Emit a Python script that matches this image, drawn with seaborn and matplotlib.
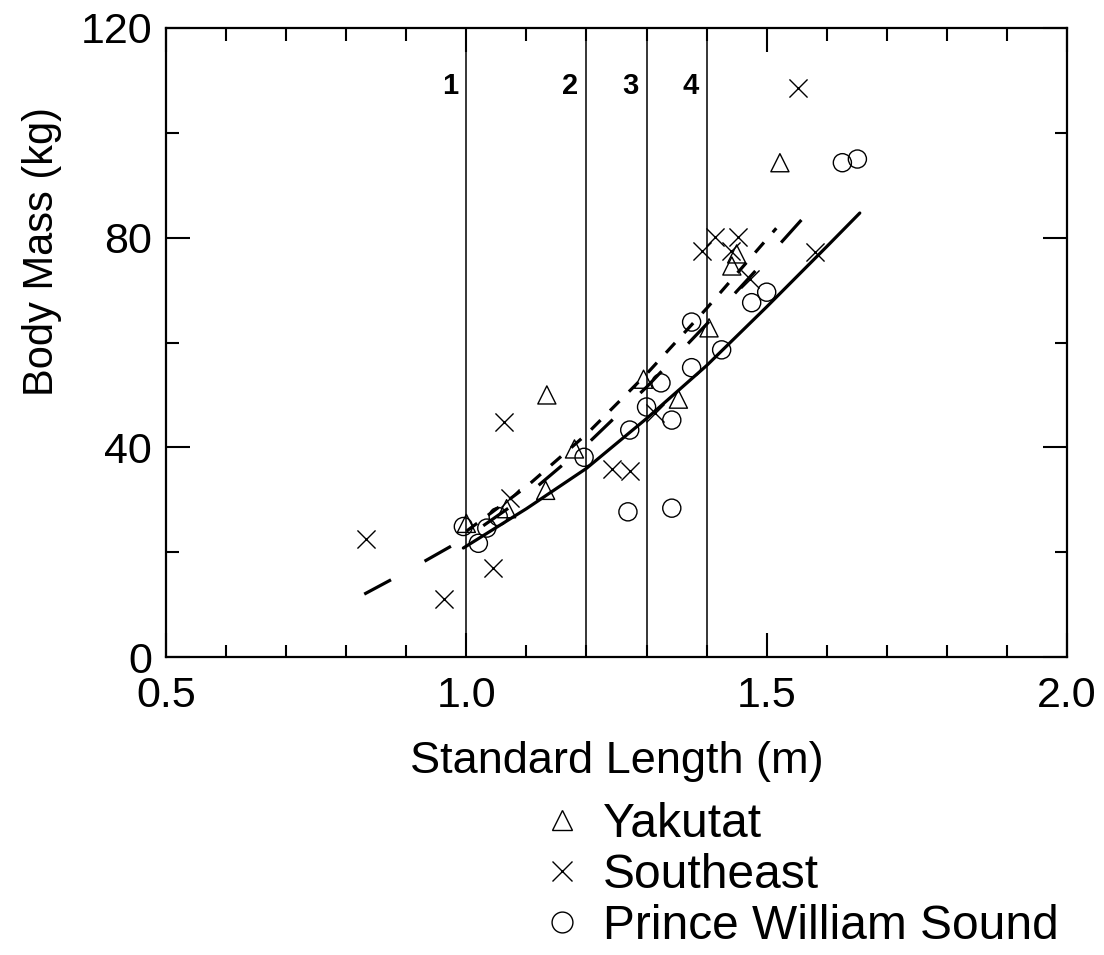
import numpy as np
import pandas as pd
import seaborn as sns
import matplotlib.pyplot as plt
from matplotlib.ticker import MultipleLocator
from matplotlib.lines import Line2D

# Points: standard length (m) and body mass (kg)
yakutat_len = [1.000, 1.067, 1.132, 1.134, 1.180, 1.295, 1.353, 1.404, 1.442, 1.450, 1.522]
yakutat_mass = [25.5, 28.3, 31.8, 50.0, 39.7, 53.0, 49.2, 62.8, 74.6, 76.9, 94.3]

southeast_len = [0.833, 0.963, 1.044, 1.062, 1.072, 1.242, 1.272, 1.314, 1.393,
                 1.414, 1.441, 1.452, 1.472, 1.552, 1.581]
southeast_mass = [22.5, 11.0, 17.0, 44.9, 30.4, 35.9, 35.4, 46.6, 77.5,
                  80.2, 77.5, 80.2, 72.2, 108.6, 77.3]

pws_len = [0.995, 1.020, 1.034, 1.053, 1.196, 1.269, 1.272, 1.300, 1.324, 1.342,
           1.342, 1.375, 1.375, 1.425, 1.475, 1.500, 1.626, 1.651]
pws_mass = [24.9, 21.7, 24.6, 26.8, 38.1, 27.7, 43.3, 47.7, 52.3, 45.2,
            28.4, 55.2, 63.9, 58.6, 67.6, 69.6, 94.3, 95.0]

# Fitted curves, points
pws_fit_len = [0.995, 1.10, 1.20, 1.30, 1.40, 1.50, 1.60, 1.655]
pws_fit_mass = [20.8, 28.3, 36.0, 45.5, 55.6, 66.8, 78.3, 84.7]

se_fit_len = [0.83, 0.90, 1.00, 1.10, 1.20, 1.30, 1.40, 1.50, 1.583]
se_fit_mass = [12.0, 16.3, 22.8, 30.8, 40.5, 51.5, 63.5, 76.0, 86.6]

yak_fit_len = [1.00, 1.10, 1.20, 1.30, 1.40, 1.516]
yak_fit_mass = [24.0, 32.5, 42.5, 54.0, 66.5, 81.8]

# Size class boundaries
class_bounds = [1.0, 1.2, 1.3, 1.4]
class_labels = ['1', '2', '3', '4']

sns.set_style('white')
plt.rcParams['font.family'] = ['Liberation Sans', 'DejaVu Sans']
plt.rcParams['text.color'] = 'black'
plt.rcParams['axes.labelcolor'] = 'black'
plt.rcParams['xtick.color'] = 'black'
plt.rcParams['ytick.color'] = 'black'

fig = plt.figure(figsize=(11.04, 9.55), dpi=100)
ax = fig.add_axes([0.1504, 0.312, 0.8161, 0.6587])

for b, lab in zip(class_bounds, class_labels):
    ax.axvline(b, color='black', lw=1.1, zorder=1)
    ax.annotate(lab, xy=(b, 109), xytext=(-6, 0), textcoords='offset points',
                ha='right', va='center', fontsize=21, fontweight='bold')

sns.lineplot(x=pws_fit_len, y=pws_fit_mass, ax=ax, color='black', lw=2.3,
             sort=False, estimator=None)
sns.lineplot(x=se_fit_len, y=se_fit_mass, ax=ax, color='black', lw=2.3,
             sort=False, estimator=None, linestyle=(0, (9.5, 12)))
sns.lineplot(x=yak_fit_len, y=yak_fit_mass, ax=ax, color='black', lw=2.3,
             sort=False, estimator=None, linestyle=(0, (4.2, 4.2)))

ms = 170
sns.scatterplot(x=yakutat_len, y=yakutat_mass, ax=ax, marker='^', s=ms,
                facecolors='none', edgecolor='black', linewidth=1.0, zorder=3)
sns.scatterplot(x=southeast_len, y=southeast_mass, ax=ax, marker='x', s=ms,
                color='black', linewidth=1.0, zorder=3)
sns.scatterplot(x=pws_len, y=pws_mass, ax=ax, marker='o', s=ms,
                facecolors='none', edgecolor='black', linewidth=1.0, zorder=3)

ax.set_xlim(0.5, 2.0)
ax.set_ylim(0, 120)
ax.xaxis.set_major_locator(MultipleLocator(0.5))
ax.xaxis.set_minor_locator(MultipleLocator(0.1))
ax.yaxis.set_major_locator(MultipleLocator(40))
ax.yaxis.set_minor_locator(MultipleLocator(20))
ax.set_xticklabels([f'{v:.1f}' for v in ax.get_xticks()])

ax.tick_params(which='both', direction='in', top=True, right=True,
               bottom=True, left=True, width=1.5, color='black')
ax.tick_params(which='major', length=17, labelsize=31)
ax.tick_params(axis='x', which='major', pad=14)
ax.tick_params(axis='y', which='major', pad=10)
ax.tick_params(which='minor', length=9)
for sp in ax.spines.values():
    sp.set_linewidth(1.6)
    sp.set_color('black')

ax.set_xlabel('Standard Length (m)', fontsize=32.5, labelpad=18)
ax.set_ylabel('Body Mass (kg)', fontsize=30)
ax.yaxis.set_label_coords(-0.115, 0.644)

handles = [
    Line2D([], [], ls='none', marker='^', ms=15, mfc='none', mec='black', mew=1.0),
    Line2D([], [], ls='none', marker='x', ms=15, color='black', mew=1.0),
    Line2D([], [], ls='none', marker='o', ms=15, mfc='none', mec='black', mew=1.0),
]
fig.legend(handles, ['Yakutat', 'Southeast', 'Prince William Sound'],
           loc='upper left', bbox_to_anchor=(0.495, 0.16),
           frameon=False, fontsize=34.5, handlelength=0.64, handletextpad=0.54,
           labelspacing=0.12, borderpad=0, borderaxespad=0)

fig.savefig('out.png', dpi=100)
